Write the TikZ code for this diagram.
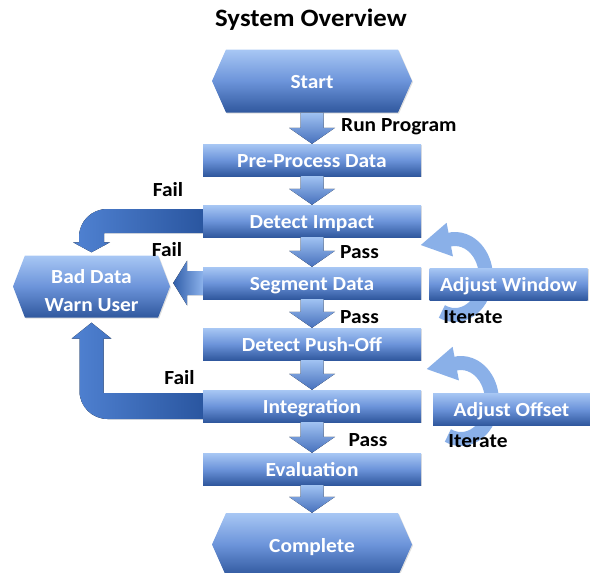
\documentclass[tikz,border=0pt]{standalone}
\usepackage{fontspec}
\setmainfont{Carlito}[FakeStretch=1.07]
\usetikzlibrary{shapes.symbols, arrows.meta, calc, shadows}

\definecolor{boxtop}{RGB}{168, 199, 244}
\definecolor{boxmid}{RGB}{108, 148, 218}
\definecolor{boxbot}{RGB}{48, 88, 158}
\definecolor{flowtop}{RGB}{160, 194, 242}
\definecolor{flowbot}{RGB}{70, 112, 188}
\definecolor{faildark}{RGB}{42, 86, 160}
\definecolor{faillight}{RGB}{80, 130, 210}
\definecolor{sidelight}{RGB}{140, 178, 235}
\definecolor{looptop}{RGB}{138, 176, 232}

% block arrow from one step down to the next
\newcommand{\flowdown}[2]{%
  \fill[flowfill] let \p1=(#1.south), \p2=(#2.north) in
    (\x1-11.5pt,\y1) -- (\x1+11.5pt,\y1) -- (\x1+11.5pt,\y2+16pt) -- (\x1+23pt,\y2+16pt)
    -- (\x1,\y2) -- (\x1-23pt,\y2+16pt) -- (\x1-11.5pt,\y2+16pt) -- cycle;}

\begin{document}
\begin{tikzpicture}[x=1pt, y=1pt,
  boxfont/.style={font=\fontsize{20}{24}\selectfont\bfseries},
  boxtext/.style={text height=15.6pt, text depth=0pt},
  shade box/.style={top color=boxtop, bottom color=boxbot, middle color=boxmid,
    text=white, boxfont, drop shadow={opacity=0.25, shadow xshift=1pt, shadow yshift=-1pt}},
  stepbox/.style={shade box, boxtext, rectangle, minimum width=218pt, minimum height=32pt, inner sep=0pt},
  sidebox/.style={stepbox, minimum width=158pt},
  hexbox/.style={shade box, signal, signal to=west and east, inner sep=0pt},
  endbox/.style={hexbox, boxtext, signal pointer angle=132, minimum width=200pt, minimum height=63pt},
  lbl/.style={font=\fontsize{20}{24}\selectfont\bfseries, text=black, inner sep=0pt},
  flowfill/.style={top color=flowtop, bottom color=flowbot},
  failfill/.style={left color=faillight, right color=faildark},
  sidefill/.style={left color=faildark!80!faillight, right color=sidelight},
  cyclearrow/.style={line width=14pt, draw=looptop, -{Triangle[width=32pt, length=30pt]}}]

  \useasboundingbox (0,0) rectangle (590,-573);

  \node[lbl, font=\fontsize{25}{30}\selectfont\bfseries] (title) at (311,-20) {System Overview};

  % main column
  \node[endbox] (start) at (312,-81) {Start};
  \node[stepbox] (pre) at (312,-160) {Pre-Process Data};
  \node[stepbox] (impact) at (312,-221) {Detect Impact};
  \node[stepbox] (segment) at (312,-283) {Segment Data};
  \node[stepbox] (pushoff) at (312,-344) {Detect Push-Off};
  \node[stepbox] (integ) at (312,-406) {Integration};
  \node[stepbox] (eval) at (312,-469) {Evaluation};
  \node[endbox] (complete) at (312,-544.5) {Complete};

  \node[hexbox, minimum width=157pt, minimum height=62pt, signal pointer angle=138,
    align=center, font=\fontsize{20}{28}\selectfont\bfseries] (bad) at (91.5,-286.5)
    {\rule{0pt}{21.5pt}Bad Data\\Warn User};

  % iterate loops, behind the side boxes
  \coordinate (wincentre) at (455,-277);
  \coordinate (offcentre) at (461,-401);
  \draw[cyclearrow] ([shift={(245:31 and 38)}]wincentre)
    arc[start angle=245, end angle=455, x radius=31, y radius=38] -- ++(-32,-6);
  \draw[cyclearrow] ([shift={(245:31 and 38)}]offcentre)
    arc[start angle=245, end angle=455, x radius=31, y radius=38] -- ++(-32,-6);

  \node[sidebox] (window) at (508.5,-284) {Adjust Window};
  \node[sidebox, minimum width=157pt] (offset) at (511.5,-409) {Adjust Offset};

  % pass arrows
  \flowdown{start}{pre}
  \flowdown{pre}{impact}
  \flowdown{impact}{segment}
  \flowdown{segment}{pushoff}
  \flowdown{pushoff}{integ}
  \flowdown{integ}{eval}
  \flowdown{eval}{complete}

  % fail arrows
  \fill[failfill] let \p1=(impact.west), \p2=(bad.north) in
    (\x1,\y1+12pt) -- (\x2+15.5pt,\y1+12pt) arc[start angle=90, end angle=180, radius=28pt]
    -- (\x2-12.5pt,\y2+13pt) -- (\x2-18.5pt,\y2+13pt) -- (\x2,\y2+3pt) -- (\x2+18.5pt,\y2+13pt)
    -- (\x2+12.5pt,\y2+13pt) -- (\x2+12.5pt,\y1-12pt) -- (\x1,\y1-12pt) -- cycle;
  \fill[sidefill] let \p1=(segment.west), \p2=(bad.east) in
    (\x1,\y1+12pt) -- (\x2+17pt,\y1+12pt) -- (\x2+17pt,\y1+22.5pt) -- (\x2+3pt,\y1)
    -- (\x2+17pt,\y1-22.5pt) -- (\x2+17pt,\y1-12pt) -- (\x1,\y1-12pt) -- cycle;
  \fill[failfill] let \p1=(integ.west), \p2=(bad.south) in
    (\x1,\y1-13pt) -- (\x2+16pt,\y1-13pt) arc[start angle=270, end angle=180, radius=28pt]
    -- (\x2-12pt,\y2-21pt) -- (\x2-20pt,\y2-21pt) -- (\x2,\y2-5pt) -- (\x2+20pt,\y2-21pt)
    -- (\x2+12pt,\y2-21pt) -- (\x2+12pt,\y1+13pt) -- (\x1,\y1+13pt) -- cycle;

  % labels
  \node[lbl, anchor=west] (runlbl) at (341,-127) {Run Program};
  \node[lbl] (fail1) at (168,-190) {Fail};
  \node[lbl] (fail2) at (167,-250) {Fail};
  \node[lbl] (fail3) at (179.5,-378) {Fail};
  \node[lbl] (pass1) at (359.5,-252) {Pass};
  \node[lbl] (pass2) at (359.5,-317) {Pass};
  \node[lbl] (pass3) at (368,-440) {Pass};
  \node[lbl] (iter1) at (473,-317) {Iterate};
  \node[lbl] (iter2) at (478,-441) {Iterate};
\end{tikzpicture}
\end{document}
